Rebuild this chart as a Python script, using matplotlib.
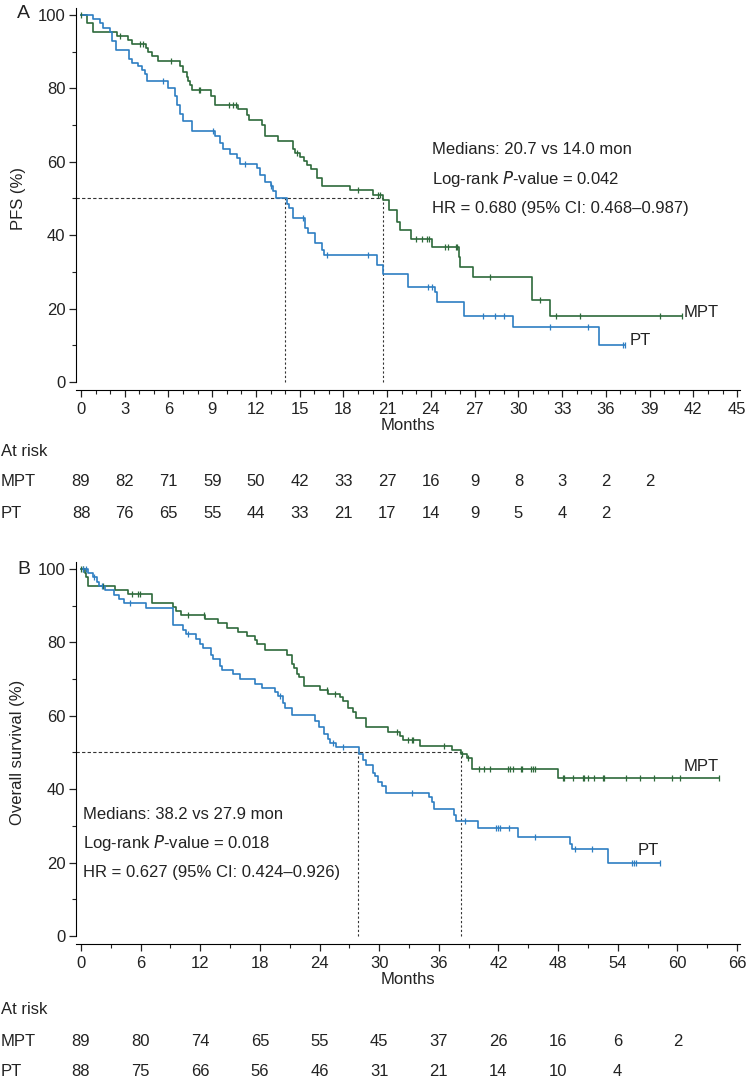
import numpy as np
import matplotlib
matplotlib.use("Agg")
import matplotlib.pyplot as plt
from matplotlib import transforms
from matplotlib.ticker import MultipleLocator

plt.rcParams['font.family'] = ['Liberation Sans', 'DejaVu Sans']

GREEN = '#2e6a3b'
BLUE = '#2d7ec2'
DASH = '#333333'

# ---- Panel A: PFS ----
a_mpt_t = [0.43, 0.85, 2.45, 3.25, 3.5, 4.43, 4.6, 4.85, 5.3, 6.8, 7.0, 7.25, 7.35, 7.5, 7.6,
           8.9, 9.2, 10.8, 11.4, 11.5, 12.4, 12.6, 13.5, 14.56, 14.7, 15.0, 15.3, 15.5, 15.8,
           16.2, 16.5, 18.45, 20.05, 20.7, 21.1, 21.65, 21.9, 22.6, 24.05, 25.9, 26.0, 26.9,
           30.9, 32.2]
a_mpt_s = [97.8, 95.5, 94.4, 93.3, 92.1, 91.0, 89.9, 88.8, 87.4, 86.0, 84.5, 83.0, 82.0, 81.0, 79.5,
           78.0, 75.5, 74.4, 72.7, 71.3, 70.0, 67.0, 65.8, 63.5, 62.5, 61.3, 60.2, 59.0, 58.0,
           55.5, 53.5, 52.3, 51.0, 49.7, 46.8, 43.6, 41.3, 39.0, 36.8, 34.0, 31.3, 28.6,
           22.3, 17.9]
a_mpt_end = 41.2
a_mpt_cens = [0, 2.67, 4.05, 4.28, 6.15, 8.1, 8.16, 10.17, 10.45, 10.6, 14.8, 19.0, 20.4, 20.5,
              23.0, 23.4, 23.7, 23.9, 24.95, 25.2, 25.7, 25.8, 28.05, 31.5, 32.6, 34.2, 39.7, 41.2]

a_pt_t = [0.8, 1.3, 1.5, 2.0, 2.1, 2.4, 3.3, 3.5, 3.9, 4.17, 4.4, 4.5, 6.0, 6.45, 6.57, 6.8, 7.0,
          7.6, 9.2, 9.5, 9.75, 10.2, 10.7, 10.9, 12.05, 12.3, 12.6, 13.0, 13.2, 13.4, 14.1, 14.3,
          14.56, 15.35, 15.6, 16.05, 16.5, 16.7, 20.3, 20.7, 22.45, 24.3, 24.4, 26.3, 29.6, 35.5]
a_pt_s = [98.9, 97.7, 96.6, 95.5, 93.0, 90.5, 88.0, 87.0, 86.0, 85.0, 84.0, 82.0, 80.0, 78.0, 75.5,
          73.0, 71.0, 68.5, 67.0, 65.0, 63.5, 62.0, 61.0, 59.5, 58.2, 56.5, 54.5, 53.5, 52.0, 50.0,
          48.6, 47.5, 44.8, 42.0, 40.5, 38.0, 36.0, 34.5, 31.8, 29.5, 26.0, 24.6, 21.8, 17.9,
          15.0, 10.0]
a_pt_end = 37.3
a_pt_cens = [5.6, 9.08, 11.25, 13.0, 15.25, 16.85, 19.7, 23.8, 24.05, 27.6, 28.4, 29.0, 32.2,
             34.8, 37.2, 37.3]

a_ticks = list(range(0, 46, 3))
a_risk_mpt = [89, 82, 71, 59, 50, 42, 33, 27, 16, 9, 8, 3, 2, 2]
a_risk_pt = [88, 76, 65, 55, 44, 33, 21, 17, 14, 9, 5, 4, 2]
a_medians = [20.7, 14.0]
a_text = ['Medians: 20.7 vs 14.0 mon', 'Log-rank $\\it{P}$-value = 0.042',
          'HR = 0.680 (95% CI: 0.468\u20130.987)']

# ---- Panel B: OS ----
b_mpt_t = [0.4, 0.55, 0.74, 3.4, 4.76, 7.1, 9.3, 9.6, 10.1, 12.5, 13.8, 14.65, 15.8, 16.7, 17.5,
           17.7, 18.5, 20.7, 21.2, 21.4, 21.7, 21.9, 22.4, 24.0, 24.9, 26.05, 26.4, 26.9, 27.4,
           27.7, 28.7, 30.9, 32.1, 32.4, 34.1, 37.3, 38.2, 38.8, 39.3, 48.0]
b_mpt_s = [98.9, 97.7, 95.5, 94.4, 93.3, 90.8, 89.7, 88.6, 87.4, 86.3, 85.2, 84.0, 82.9, 81.8, 80.7,
           79.5, 78.0, 76.5, 74.0, 73.0, 71.5, 70.5, 68.0, 67.0, 66.0, 65.0, 64.0, 62.0, 61.0,
           59.5, 57.0, 55.5, 54.5, 53.5, 51.9, 50.6, 49.6, 48.5, 45.6, 43.0]
b_mpt_end = 64.2
b_mpt_cens = [0, 0.23, 2.25, 5.1, 5.77, 5.9, 10.8, 12.4, 24.7, 25.55, 31.75, 32.9, 33.3, 33.4,
              36.5, 38.3, 38.97, 40.0, 40.5, 41.15, 43.0, 43.2, 43.5, 44.3, 44.4, 45.3, 45.5,
              45.7, 48.5, 48.6, 49.5, 50.5, 50.6, 51.0, 51.6, 52.5, 52.6, 54.8, 56.2, 57.6,
              59.5, 60.3, 64.2]

b_pt_t = [0.74, 1.24, 1.6, 1.85, 2.4, 3.3, 3.8, 4.3, 6.5, 9.3, 10.3, 10.6, 11.6, 12.0, 12.3, 13.1,
          13.3, 14.0, 14.2, 15.3, 16.0, 17.5, 18.2, 19.5, 19.85, 20.35, 20.5, 21.2, 23.5, 23.9,
          24.4, 24.9, 25.05, 25.7, 28.0, 28.4, 28.7, 29.4, 29.6, 29.9, 30.3, 30.7, 35.0, 35.3,
          35.5, 37.5, 37.7, 39.9, 44.0, 49.2, 49.4, 53.0]
b_pt_s = [98.9, 97.7, 96.6, 95.5, 94.3, 93.0, 91.8, 90.7, 89.4, 84.7, 83.4, 82.3, 81.0, 79.5, 78.4,
          76.5, 75.5, 73.5, 72.4, 71.3, 70.0, 68.8, 67.5, 66.4, 65.3, 63.5, 62.0, 60.2, 58.5,
          57.0, 55.0, 53.6, 52.6, 51.5, 49.5, 48.0, 46.5, 44.5, 43.5, 42.0, 41.0, 39.0, 38.0,
          36.5, 34.5, 33.0, 31.3, 29.5, 26.9, 25.0, 23.6, 20.0]
b_pt_end = 58.3
b_pt_cens = [0.23, 0.5, 1.34, 2.08, 4.93, 10.8, 20.0, 25.4, 26.4, 33.3, 38.6, 41.8, 41.98, 42.15,
             43.1, 45.7, 49.7, 51.4, 55.4, 55.6, 55.8, 58.3]

b_ticks = list(range(0, 67, 6))
b_risk_mpt = [89, 80, 74, 65, 55, 45, 37, 26, 16, 6, 2]
b_risk_pt = [88, 75, 66, 56, 46, 31, 21, 14, 10, 4]
b_medians = [38.2, 27.9]
b_text = ['Medians: 38.2 vs 27.9 mon', 'Log-rank $\\it{P}$-value = 0.018',
          'HR = 0.627 (95% CI: 0.424\u20130.926)']

W, H = 749, 1082
fig = plt.figure(figsize=(W / 100, H / 100), dpi=100)


def px(x, y):
    return x / W, 1 - y / H


def surv_at(t, times, surv):
    s = 100.0
    for ti, si in zip(times, surv):
        if ti <= t:
            s = si
    return s


def km(ax, times, surv, end, cens, color):
    xs = [0] + list(times) + [end]
    ys = [100] + list(surv) + [surv[-1]]
    ax.step(xs, ys, where='post', color=color, lw=1.2, zorder=3)
    cy = [surv_at(c, times, surv) for c in cens]
    ax.plot(cens, cy, ls='none', marker='|', ms=5, mew=0.9, color=color, zorder=4)


def panel(rect, xmax, ticks, minor, curves, medians, text, tpos, labels, ylabel,
          letter, letter_y, spine_y, risk, risk_rows):
    ax = fig.add_axes(rect)
    ax.set_xlim(xmax[0], xmax[1])
    ax.set_ylim(-2.2, 102)
    for c in curves:
        km(ax, *c)
    # median guide lines
    ax.plot([xmax[0], max(medians)], [50, 50], ls=(0, (3, 2)), lw=0.8, color=DASH, zorder=2)
    for m in medians:
        ax.plot([m, m], [0, 50], ls=(0, (2, 2)), lw=0.8, color=DASH, zorder=2)
    for i, s in enumerate(text):
        ax.text(tpos[0], tpos[1][i], s, fontsize=12, ha='left', va='center', color='#222222')
    for name, (lx, ly) in labels.items():
        ax.text(lx, ly, name, fontsize=12, ha='left', va='center', color='#222222')

    ax.spines['top'].set_visible(False)
    ax.spines['right'].set_visible(False)
    ax.spines['left'].set_bounds(0, 102)
    ax.set_yticks([0, 20, 40, 60, 80, 100])
    ax.yaxis.set_minor_locator(MultipleLocator(10))
    ax.set_xticks(ticks)
    ax.xaxis.set_minor_locator(MultipleLocator(minor))
    ax.tick_params(axis='both', which='major', labelsize=12, length=5, width=0.9, pad=2.5,
                   colors='#222222')
    ax.tick_params(axis='both', which='minor', length=2.8, width=0.8, colors='#222222')
    ax.tick_params(axis='x', which='major', pad=3.5)
    ax.set_xlabel('Months', fontsize=12, labelpad=1, color='#222222')

    fig.text(*px(18, rect_center_y(rect)), ylabel, rotation=90, fontsize=12,
             ha='center', va='center', color='#222222')
    fig.text(*px(17, letter_y), letter, fontsize=14, ha='left', va='center', color='#222222')

    tr = transforms.blended_transform_factory(ax.transData, fig.transFigure)
    fig.text(*px(1, risk_rows[0]), 'At risk', fontsize=12, ha='left', va='center',
             color='#222222')
    for (name, vals), yy in zip(risk, risk_rows[1:]):
        fig.text(*px(1, yy), name, fontsize=12, ha='left', va='center', color='#222222')
        for t, v in zip(ticks, vals):
            ax.text(t, 1 - yy / H, str(v), transform=tr, fontsize=12, ha='center',
                    va='center', color='#222222', clip_on=False)
    return ax


def rect_center_y(rect):
    return (1 - (rect[1] + rect[3] / 2)) * H


# axes rectangles from pixel layout
a_rect = [76 / W, 1 - 390 / H, 664 / W, (390 - 7.7) / H]
b_rect = [76 / W, 1 - 944 / H, 664 / W, (944 - 561.7) / H]

panel(a_rect, (-0.343, 45.2), a_ticks, 1,
      [(a_mpt_t, a_mpt_s, a_mpt_end, a_mpt_cens, GREEN),
       (a_pt_t, a_pt_s, a_pt_end, a_pt_cens, BLUE)],
      a_medians, a_text, (24.1, [63.4, 55.2, 47.3]),
      {'MPT': (41.3, 19.0), 'PT': (37.65, 11.4)}, 'PFS (%)', 'A', 14, 390,
      [('MPT', a_risk_mpt), ('PT', a_risk_pt)], [451, 482, 513])

panel(b_rect, (-0.503, 66.3), b_ticks, 3,
      [(b_mpt_t, b_mpt_s, b_mpt_end, b_mpt_cens, GREEN),
       (b_pt_t, b_pt_s, b_pt_end, b_pt_cens, BLUE)],
      b_medians, b_text, (0.2, [33.2, 25.3, 17.2]),
      {'MPT': (60.6, 46.3), 'PT': (56.0, 23.2)}, 'Overall survival (%)', 'B', 569, 944,
      [('MPT', b_risk_mpt), ('PT', b_risk_pt)], [1009, 1041, 1071])

fig.savefig('out.png', dpi=100)
